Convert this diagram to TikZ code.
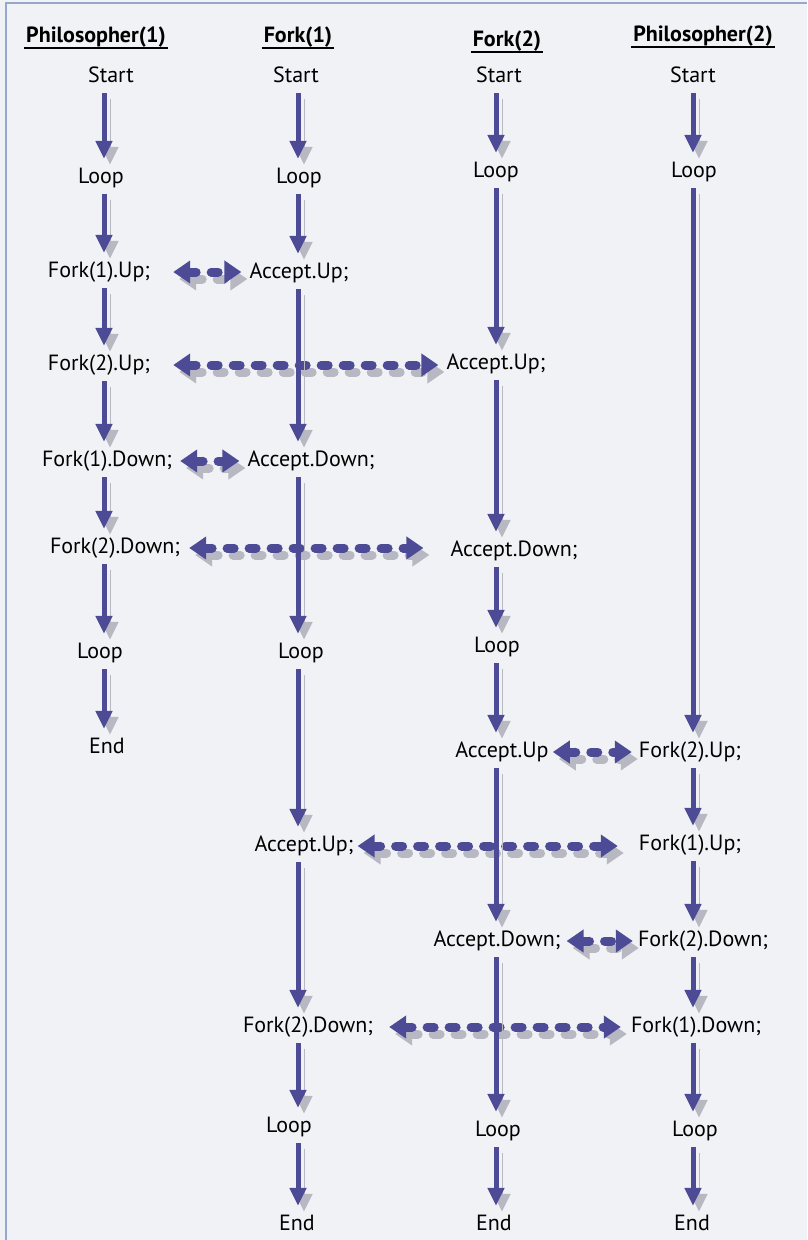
\documentclass[tikz,border=0pt]{standalone}
\usepackage{fontspec}
\setmainfont{PT Sans}
\usetikzlibrary{arrows.meta}
\definecolor{arrowc}{RGB}{78,75,150}
\definecolor{shadowc}{RGB}{184,184,194}
\definecolor{bgc}{RGB}{241,242,245}
\definecolor{framec}{RGB}{150,168,205}
\tikzset{
  lbl/.style={font=\fontsize{22}{26}\selectfont, inner sep=0pt, text height=15pt, text depth=5pt, anchor=base},
  hdr/.style={font=\bfseries\fontsize{22}{26}\selectfont, inner xsep=2pt, inner ysep=0pt, anchor=base},
  uline/.style={line width=1.8pt, black},
  flow/.style={draw=arrowc, line width=5pt, -{Triangle[length=18pt,width=16pt]}, shorten <=6pt, shorten >=9pt,
    preaction={draw=shadowc, transform canvas={shift={(6pt,-6pt)}}}},
  syncline/.style={line width=9pt, line cap=round, dash pattern=on 7pt off 15pt,
    {Triangle[length=17pt,width=22pt]}-{Triangle[length=17pt,width=22pt]}},
  sync/.style={draw=arrowc, syncline,
    preaction={draw=shadowc, syncline, transform canvas={shift={(6pt,-7pt)}}}}
}
\begin{document}
\begin{tikzpicture}[x=1pt,y=-1pt]
\useasboundingbox (0,0) rectangle (807,1240);
\fill[bgc] (0,0) rectangle (807,1240);
\draw[framec, line width=1.5pt] (6,1240) -- (6,3) -- (807,3);

% column axes
\coordinate (X1) at (104,0);
\coordinate (X2) at (298,0);
\coordinate (X3) at (496,0);
\coordinate (X4) at (693,0);

% headers
\node[hdr] (h1) at (96,42) {Philosopher(1)};
\node[hdr] (h2) at (298,42) {Fork(1)};
\node[hdr] (h3) at (507,46) {Fork(2)};
\node[hdr] (h4) at (703,41) {Philosopher(2)};
\foreach \h in {h1,h2,h3,h4}
  \draw[uline] ([yshift=-6pt]\h.base west) -- ([yshift=-6pt]\h.base east);

% column 1: Philosopher(1)
\node[lbl] (s1)  at (111,82)  {Start};
\node[lbl] (l1)  at (101,183) {Loop};
\node[lbl] (p1a) at (99,277)  {Fork(1).Up;};
\node[lbl] (p1b) at (99,370)  {Fork(2).Up;};
\node[lbl] (p1c) at (107,466) {Fork(1).Down;};
\node[lbl] (p1d) at (115,553) {Fork(2).Down;};
\node[lbl] (l1b) at (100,658) {Loop};
\node[lbl] (e1)  at (107,753) {End};

% column 2: Fork(1)
\node[lbl] (s2)  at (296,82)   {Start};
\node[lbl] (l2)  at (299,183)  {Loop};
\node[lbl] (a2a) at (299,278)  {Accept.Up;};
\node[lbl] (a2b) at (311,466)  {Accept.Down;};
\node[lbl] (l2b) at (301,658)  {Loop};
\node[lbl] (a2c) at (304,851)  {Accept.Up;};
\node[lbl] (f2d) at (308,1032) {Fork(2).Down;};
\node[lbl] (l2c) at (289,1132) {Loop};
\node[lbl] (e2)  at (297,1230) {End};

% column 3: Fork(2)
\node[lbl] (s3)  at (499,82)   {Start};
\node[lbl] (l3)  at (496,177)  {Loop};
\node[lbl] (a3a) at (496,369)  {Accept.Up;};
\node[lbl] (a3b) at (514,556)  {Accept.Down;};
\node[lbl] (l3b) at (497,652)  {Loop};
\node[lbl] (a3c) at (502,757)  {Accept.Up};
\node[lbl] (a3d) at (497,946)  {Accept.Down;};
\node[lbl] (l3c) at (498,1136) {Loop};
\node[lbl] (e3)  at (494,1230) {End};

% column 4: Philosopher(2)
\node[lbl] (s4)  at (693,82)   {Start};
\node[lbl] (l4)  at (694,177)  {Loop};
\node[lbl] (f4a) at (690,757)  {Fork(2).Up;};
\node[lbl] (f4b) at (690,850)  {Fork(1).Up;};
\node[lbl] (f4c) at (703,946)  {Fork(2).Down;};
\node[lbl] (f4d) at (696,1032) {Fork(1).Down;};
\node[lbl] (l4b) at (695,1136) {Loop};
\node[lbl] (e4)  at (692,1230) {End};

% synchronisation arrows
\draw[sync, shorten <=23pt, shorten >=8pt] (p1a.east) -- (p1a.east -| a2a.west);
\draw[sync, shorten <=23pt, shorten >=8pt] (p1b.east) -- (p1b.east -| a3a.west);
\draw[sync, shorten <=8pt, shorten >=8pt] (p1c.east) -- (p1c.east -| a2b.west);
\draw[sync, shorten <=9pt, shorten >=27pt] (p1d.east) -- (p1d.east -| a3b.west);
\draw[sync, shorten <=4pt, shorten >=7pt] (a3c.east) -- (a3c.east -| f4a.west);
\draw[sync, shorten <=4pt, shorten >=21pt] (a2c.east) -- (a2c.east -| f4b.west);
\draw[sync, shorten <=6pt, shorten >=5pt] (a3d.east) -- (a3d.east -| f4c.west);
\draw[sync, shorten <=16pt, shorten >=10pt] (f2d.east) -- (f2d.east -| f4d.west);

% flow arrows
\foreach \a/\b in {s1/l1,l1/p1a,p1a/p1b,p1b/p1c,p1c/p1d,p1d/l1b,l1b/e1}
  \draw[flow] (\a.south -| X1) -- (\b.north -| X1);
\foreach \a/\b in {s2/l2,l2/a2a,a2a/a2b,a2b/l2b,l2b/a2c,a2c/f2d,f2d/l2c,l2c/e2}
  \draw[flow] (\a.south -| X2) -- (\b.north -| X2);
\foreach \a/\b in {s3/l3,l3/a3a,a3a/a3b,a3b/l3b,l3b/a3c,a3c/a3d,a3d/l3c,l3c/e3}
  \draw[flow] (\a.south -| X3) -- (\b.north -| X3);
\foreach \a/\b in {s4/l4,l4/f4a,f4a/f4b,f4b/f4c,f4c/f4d,f4d/l4b,l4b/e4}
  \draw[flow] (\a.south -| X4) -- (\b.north -| X4);
\end{tikzpicture}
\end{document}
